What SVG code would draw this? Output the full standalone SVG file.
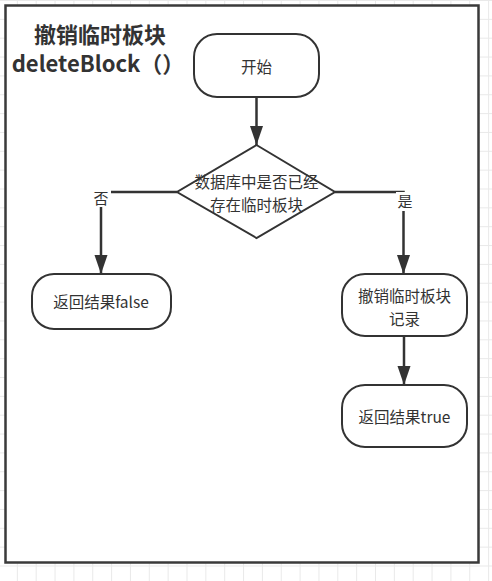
<svg xmlns="http://www.w3.org/2000/svg" width="492" height="581" viewBox="0 0 492 581">
<style>
.node{fill:#fff;stroke:#333;stroke-width:2}
.t{font-family:"Noto Sans CJK SC","Liberation Sans",sans-serif;font-size:15.5px;fill:#333;text-anchor:middle;dominant-baseline:central}
.title{font-family:"Noto Sans CJK SC","Liberation Sans",sans-serif;font-size:22px;font-weight:bold;fill:#333;text-anchor:middle;dominant-baseline:central}
.edge{fill:none;stroke:#333;stroke-width:2.5}
.lbl{font-family:"Noto Sans CJK SC","Liberation Sans",sans-serif;font-size:15px;fill:#333;text-anchor:middle;dominant-baseline:central}
</style>
<defs>
<pattern id="grid" x="-2" y="0" width="18.85" height="18.85" patternUnits="userSpaceOnUse">
<path d="M0.5 0V18.85M0 0.5H18.85" stroke="#e9e9e9" stroke-width="1" fill="none"/>
</pattern>
<marker id="arr" markerUnits="userSpaceOnUse" markerWidth="20" markerHeight="14" refX="19" refY="7" orient="auto">
<path d="M0,0.5 L19,7 L0,13.5 z" fill="#333"/>
</marker>
</defs>
<rect width="492" height="581" fill="#fff"/>
<rect width="492" height="581" fill="url(#grid)"/>
<g id="frame">
<rect x="5.5" y="5.5" width="473" height="557" fill="#fff" stroke="#3a3a3a" stroke-width="2.5"/>
<text class="title" x="100"><tspan x="100" y="33">撤销临时板块</tspan><tspan x="98" y="62">deleteBlock（）</tspan></text>
</g>
<g id="connectors">
<path class="edge" d="M256.5 97V145" marker-end="url(#arr)"/>
<path class="edge" d="M177 192H101V274" marker-end="url(#arr)"/>
<path class="edge" d="M335 192H403.5V274" marker-end="url(#arr)"/>
<path class="edge" d="M404 336V385" marker-end="url(#arr)"/>
<rect x="92" y="189" width="19" height="18" fill="#fff"/>
<text class="lbl" x="101" y="197">否</text>
<rect x="396" y="192" width="17" height="19" fill="#fff"/>
<text class="lbl" x="405" y="200">是</text>
</g>
<g id="start">
<rect class="node" x="194" y="34" width="125" height="63" rx="23"/>
<text class="t" x="256.5" y="66">开始</text>
</g>
<g id="decision">
<polygon class="node" points="256.5,145 335,192 256.5,238 177,192"/>
<text class="t"><tspan x="256.5" y="181">数据库中是否已经</tspan><tspan x="256.5" y="203.5">存在临时板块</tspan></text>
</g>
<g id="returnFalse">
<rect class="node" x="32" y="274" width="139" height="55" rx="22"/>
<text class="t" x="101" y="301">返回结果false</text>
</g>
<g id="deleteRecord">
<rect class="node" x="342" y="274" width="125" height="62" rx="23"/>
<text class="t"><tspan x="404.5" y="295">撤销临时板块</tspan><tspan x="404.5" y="317.5">记录</tspan></text>
</g>
<g id="returnTrue">
<rect class="node" x="342" y="385" width="125" height="62" rx="23"/>
<text class="t" x="404.5" y="416">返回结果true</text>
</g>
</svg>
